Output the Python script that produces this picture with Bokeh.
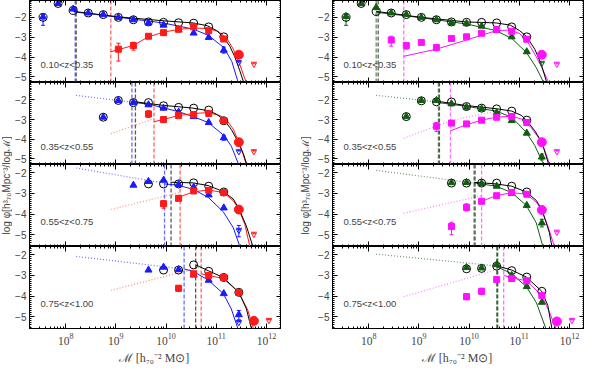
import math
from bokeh.plotting import figure
from bokeh.layouts import row, column
from bokeh.models import (Range1d, LogAxis, LinearAxis, Label, FixedTicker,
                          LogTickFormatter, CustomJSTickFormatter)
from bokeh.embed import file_html
from bokeh.resources import INLINE

# ---------------- axis / tick data ----------------
X_LOG_RANGE = (7.28, 12.30)
Y_RANGES = [(-5.28, -1.15), (-5.28, -1.12), (-5.57, -1.60), (-5.57, -1.60)]
Y_TICKS = [-5, -4, -3, -2]
X_TICKS = [1e8, 1e9, 1e10, 1e11, 1e12]
Z_LABELS = ["0.10<z<0.35", "0.35<z<0.55", "0.55<z<0.75", "0.75<z<1.00"]
Y_LABEL = "log  \u03c6[h\u00b3\u2087\u2080Mpc\u207b\u00b3/log\u2133]"
X_LABEL = "\u2133  [h\u2087\u2080\u207b\u00b2 M\u2299]"

# ---------------- left column: total (black), blue, red ----------------
L1_tot = [(7.55,-2.0),(7.85,-1.3),(8.15,-1.65),(8.45,-1.78),(8.75,-1.86),(9.05,-2.0),(9.35,-2.12),(9.65,-2.23),(9.95,-2.25),(10.25,-2.27),(10.55,-2.29),(10.85,-2.48),(11.15,-2.98)]
L1_a = [(7.55,-1.98),(7.85,-1.3),(8.15,-1.58),(8.45,-1.78),(8.75,-1.86),(9.05,-2.0),(9.35,-2.12),(9.65,-2.28),(9.95,-2.39),(10.25,-2.62),(10.55,-2.79),(10.85,-3.01),(11.15,-3.65)]
L1_b = [(9.05,-3.6),(9.35,-3.42),(9.65,-2.95),(9.95,-2.77),(10.25,-2.6),(10.55,-2.47),(10.85,-2.67),(11.15,-3.09)]
L1_bc = [(11.45,-3.88)]
L1_alim = [(11.45,-4.3)]
L1_blim = [(11.75,-4.38)]
L1_aerr = [(7.55,-2.4,-1.85),(11.15,-3.8,-3.5)]
L1_berr = [(9.05,-4.2,-3.3),(9.35,-3.65,-3.25)]
L1_ctot = [(8.16,-1.7),(9.04,-1.97),(9.94,-2.17),(10.54,-2.28),(10.82,-2.42),(11.01,-2.67),(11.14,-2.98),(11.27,-3.45),(11.37,-3.99),(11.47,-4.69),(11.55,-5.3)]
L1_ca = [(8.16,-1.72),(9.04,-1.99),(9.94,-2.28),(10.54,-2.59),(10.84,-2.9),(11.15,-3.52),(11.31,-4.22),(11.44,-5.3)]
L1_cb = [(8.90,-3.73),(9.34,-3.42),(9.65,-2.98),(9.94,-2.75),(10.25,-2.6),(10.56,-2.54),(10.84,-2.56),(11.05,-2.72),(11.21,-3.06),(11.34,-3.6),(11.47,-4.38),(11.6,-5.3)]
L1_da = []
L1_db = []
L1_v = [8.19, 8.21, 8.90]

L2_tot = [(8.75,-2.88),(9.05,-2.03),(9.35,-2.14),(9.65,-2.14),(9.95,-2.3),(10.25,-2.38),(10.55,-2.42),(10.85,-2.52),(11.15,-3.06)]
L2_a = [(8.75,-2.88),(9.05,-2.03),(9.35,-2.14),(9.65,-2.25),(9.95,-2.42),(10.25,-2.62),(10.55,-2.85),(10.85,-3.15),(11.15,-3.92)]
L2_b = [(9.65,-2.72),(9.95,-3.0),(10.25,-2.8),(10.55,-2.75),(10.85,-2.69),(11.15,-3.06)]
L2_bc = [(11.45,-4.15)]
L2_alim = [(11.45,-4.65)]
L2_blim = [(11.75,-4.65)]
L2_aerr = [(11.15,-4.05,-3.8)]
L2_berr = [(9.65,-2.9,-2.55)]
L2_ctot = [(9.39,-2.1),(9.94,-2.28),(10.54,-2.42),(10.84,-2.55),(11.0,-2.72),(11.15,-3.0),(11.3,-3.5),(11.45,-4.2),(11.55,-4.8),(11.61,-5.3)]
L2_ca = [(9.32,-2.12),(9.65,-2.22),(9.94,-2.4),(10.25,-2.6),(10.54,-2.85),(10.84,-3.15),(11.15,-3.8),(11.3,-4.35),(11.45,-5.3)]
L2_cb = [(9.76,-3.11),(9.94,-3.0),(10.24,-2.8),(10.56,-2.69),(10.84,-2.65),(11.08,-2.8),(11.21,-3.03),(11.34,-3.49),(11.45,-4.15),(11.53,-4.72),(11.6,-5.3)]
L2_da = [(8.21,-1.77),(9.32,-2.12)]
L2_db = [(8.90,-3.72),(9.76,-2.95)]
L2_v = [9.32, 9.39, 9.76]

L3_tot = [(9.65,-2.54),(9.95,-2.54),(10.25,-2.54),(10.55,-2.49),(10.85,-2.65),(11.15,-2.93)]
L3_a = [(9.35,-2.6),(9.65,-2.42),(9.95,-2.36),(10.25,-2.57),(10.55,-2.7),(10.85,-3.07),(11.15,-3.7)]
L3_b = [(9.95,-3.5),(10.25,-3.24),(10.55,-2.88),(10.85,-2.85),(11.15,-2.96)]
L3_bc = [(11.45,-3.78)]
L3_alim = [(11.45,-4.81)]
L3_blim = [(11.75,-5.0)]
L3_aerr = [(11.45,-5.1,-4.55)]
L3_berr = [(9.95,-3.72,-3.35)]
L3_ctot = [(10.09,-2.46),(10.54,-2.49),(10.84,-2.62),(11.14,-2.91),(11.34,-3.27),(11.45,-3.73),(11.6,-4.58),(11.73,-5.57)]
L3_ca = [(9.97,-2.54),(10.23,-2.6),(10.54,-2.8),(10.84,-3.19),(11.14,-3.89),(11.34,-4.66),(11.47,-5.57)]
L3_cb = [(10.28,-3.16),(10.54,-2.93),(10.84,-2.83),(11.14,-2.96),(11.34,-3.35),(11.45,-3.78),(11.57,-4.5),(11.67,-5.57)]
L3_da = [(8.21,-1.77),(9.97,-2.5)]
L3_db = [(8.90,-3.78),(10.28,-2.95)]
L3_v = [9.97, 10.10, 10.28]

L4_tot = [(9.95,-2.74),(10.25,-2.74),(10.55,-2.49),(10.85,-2.8),(11.15,-3.1),(11.45,-3.82)]
L4_a = [(9.65,-2.74),(9.95,-2.6),(10.25,-2.72),(10.55,-2.98),(10.85,-3.23),(11.15,-3.88),(11.45,-4.9)]
L4_b = [(10.25,-3.62),(10.55,-2.92),(10.85,-3.0),(11.15,-3.1),(11.45,-3.82)]
L4_bc = [(11.75,-5.2)]
L4_alim = [(11.45,-5.3)]
L4_blim = [(12.05,-5.2)]
L4_aerr = [(11.45,-5.15,-4.7)]
L4_berr = [(10.25,-3.78,-3.5)]
L4_ctot = [(10.59,-2.49),(10.84,-2.77),(11.14,-3.1),(11.45,-3.82),(11.6,-4.62),(11.7,-5.57)]
L4_ca = [(10.36,-2.69),(10.54,-2.8),(10.84,-3.23),(11.14,-3.88),(11.3,-4.62),(11.43,-5.57)]
L4_cb = [(10.70,-2.92),(10.84,-3.0),(11.14,-3.15),(11.45,-3.82),(11.63,-4.69),(11.74,-5.57)]
L4_da = [(8.21,-2.08),(10.36,-2.69)]
L4_db = [(8.90,-3.72),(10.70,-2.6)]
L4_v = [10.36, 10.59, 10.70]

# ---------------- right column: total (black), green, magenta ----------------
R1_tot = [(7.55,-2.0),(7.85,-1.3),(8.15,-1.7),(8.45,-1.78),(8.75,-1.86),(9.05,-2.0),(9.35,-2.12),(9.65,-2.23),(9.95,-2.25),(10.25,-2.25),(10.55,-2.28),(10.85,-2.48),(11.15,-2.98)]
R1_a = [(7.55,-1.95),(7.85,-1.3),(8.15,-1.5),(8.45,-1.78),(8.75,-1.86),(9.05,-2.0),(9.35,-2.12),(9.65,-2.28),(9.95,-2.31),(10.25,-2.44),(10.55,-2.65),(10.85,-2.98),(11.15,-3.73)]
R1_b = [(8.45,-3.14),(8.75,-3.42),(9.05,-3.26),(9.35,-3.52),(9.65,-3.06),(9.95,-2.98),(10.25,-2.8),(10.55,-2.62),(10.85,-2.7),(11.15,-3.1)]
R1_bc = [(11.45,-3.88)]
R1_alim = [(11.45,-4.33)]
R1_blim = [(11.75,-4.38)]
R1_aerr = [(7.55,-2.4,-1.85)]
R1_berr = [(8.45,-3.45,-2.95),(8.75,-3.6,-3.3),(9.35,-3.68,-3.4)]
R1_ctot = [(8.15,-1.7),(9.05,-2.0),(9.95,-2.23),(10.54,-2.28),(10.82,-2.39),(11.01,-2.67),(11.14,-2.95),(11.31,-3.6),(11.44,-4.38),(11.55,-5.3)]
R1_ca = [(8.15,-1.74),(9.05,-2.02),(9.95,-2.33),(10.54,-2.67),(10.85,-3.06),(11.14,-3.76),(11.34,-4.53),(11.49,-5.3)]
R1_cb = [(8.70,-3.96),(9.35,-3.6),(9.95,-3.14),(10.25,-2.9),(10.54,-2.67),(10.82,-2.64),(11.01,-2.82),(11.18,-3.29),(11.34,-3.99),(11.45,-4.53),(11.59,-5.3)]
R1_da = []
R1_db = []
R1_v = [8.15, 8.19, 8.70]

R2_tot = [(8.75,-2.85),(9.05,-2.05),(9.35,-2.1),(9.65,-2.11),(9.95,-2.34),(10.25,-2.42),(10.55,-2.46),(10.85,-2.57),(11.15,-3.03)]
R2_a = [(8.75,-2.85),(9.05,-2.03),(9.35,-2.03),(9.65,-2.2),(9.95,-2.38),(10.25,-2.46),(10.55,-2.65),(10.85,-3.05),(11.15,-3.69),(11.45,-4.9)]
R2_b = [(9.35,-3.34),(9.65,-3.18),(9.95,-3.22),(10.25,-3.03),(10.55,-2.88),(10.85,-2.85),(11.15,-3.15)]
R2_bc = [(11.45,-4.15)]
R2_alim = []
R2_blim = [(11.75,-4.65)]
R2_aerr = [(11.45,-5.05,-4.75)]
R2_berr = [(9.35,-3.6,-3.15)]
R2_ctot = [(9.39,-2.08),(9.95,-2.29),(10.54,-2.45),(10.85,-2.57),(11.05,-2.8),(11.14,-3.03),(11.31,-3.57),(11.45,-4.15),(11.59,-5.3)]
R2_ca = [(9.39,-2.14),(9.95,-2.33),(10.54,-2.57),(10.85,-2.88),(11.14,-3.65),(11.31,-4.32),(11.49,-5.3)]
R2_cb = [(9.63,-3.57),(9.95,-3.26),(10.25,-3.03),(10.54,-2.88),(10.85,-2.83),(11.08,-3.0),(11.24,-3.42),(11.45,-4.15),(11.61,-5.3)]
R2_da = [(8.15,-1.77),(9.39,-2.11)]
R2_db = [(8.70,-3.95),(9.63,-3.06),(10.49,-2.6)]
R2_v = [9.39, 9.41, 9.63]

R3_tot = [(9.65,-2.5),(9.95,-2.5),(10.25,-2.5),(10.55,-2.5),(10.85,-2.65),(11.15,-2.93)]
R3_a = [(9.65,-2.48),(9.95,-2.47),(10.25,-2.52),(10.55,-2.65),(10.85,-3.0),(11.15,-3.58),(11.45,-4.43)]
R3_b = [(9.65,-4.6),(9.95,-3.68),(10.25,-3.38),(10.55,-3.11),(10.85,-2.96),(11.15,-3.04)]
R3_bc = [(11.45,-3.8)]
R3_alim = []
R3_blim = [(11.75,-4.9)]
R3_aerr = [(11.45,-4.62,-4.25)]
R3_berr = [(9.65,-5.0,-4.4),(9.95,-3.85,-3.5)]
R3_ctot = [(10.10,-2.46),(10.54,-2.54),(10.85,-2.65),(11.14,-2.93),(11.34,-3.34),(11.45,-3.78),(11.6,-4.89),(11.65,-5.57)]
R3_ca = [(10.10,-2.49),(10.54,-2.65),(10.85,-2.96),(11.14,-3.58),(11.34,-4.43),(11.47,-5.57)]
R3_cb = [(10.25,-3.38),(10.54,-3.11),(10.85,-2.96),(11.14,-3.04),(11.34,-3.42),(11.45,-3.81),(11.57,-4.58),(11.7,-5.57)]
R3_da = [(8.15,-1.88),(10.10,-2.5)]
R3_db = [(8.70,-3.96),(10.25,-3.11)]
R3_v = [10.10, 10.12, 10.25]

R4_tot = [(9.95,-2.68),(10.25,-2.66),(10.55,-2.55),(10.85,-2.77),(11.15,-3.08),(11.45,-3.77)]
R4_a = [(9.95,-2.62),(10.25,-2.64),(10.55,-2.48),(10.85,-3.0),(11.15,-3.54),(11.45,-4.3)]
R4_b = [(9.95,-4.03),(10.25,-3.77),(10.55,-3.2),(10.85,-3.15),(11.15,-3.26),(11.45,-3.97)]
R4_bc = [(11.75,-5.23)]
R4_alim = []
R4_blim = [(12.05,-5.2)]
R4_aerr = []
R4_berr = [(9.95,-4.18,-3.88),(10.25,-3.92,-3.62)]
R4_ctot = [(10.56,-2.54),(10.85,-2.74),(11.14,-3.08),(11.45,-3.77),(11.57,-4.46),(11.65,-5.57)]
R4_ca = [(10.56,-2.58),(10.85,-2.92),(11.14,-3.54),(11.34,-4.31),(11.53,-5.57)]
R4_cb = [(10.69,-3.0),(10.85,-3.11),(11.14,-3.26),(11.45,-3.97),(11.6,-4.77),(11.73,-5.57)]
R4_da = [(8.15,-1.97),(10.56,-2.54)]
R4_db = [(8.70,-4.03),(10.69,-2.62)]
R4_v = [10.55, 10.57, 10.69]

LEFT = [
    (L1_tot, L1_a, L1_b, L1_bc, L1_alim, L1_blim, L1_aerr, L1_berr, L1_ctot, L1_ca, L1_cb, L1_da, L1_db, L1_v),
    (L2_tot, L2_a, L2_b, L2_bc, L2_alim, L2_blim, L2_aerr, L2_berr, L2_ctot, L2_ca, L2_cb, L2_da, L2_db, L2_v),
    (L3_tot, L3_a, L3_b, L3_bc, L3_alim, L3_blim, L3_aerr, L3_berr, L3_ctot, L3_ca, L3_cb, L3_da, L3_db, L3_v),
    (L4_tot, L4_a, L4_b, L4_bc, L4_alim, L4_blim, L4_aerr, L4_berr, L4_ctot, L4_ca, L4_cb, L4_da, L4_db, L4_v),
]
RIGHT = [
    (R1_tot, R1_a, R1_b, R1_bc, R1_alim, R1_blim, R1_aerr, R1_berr, R1_ctot, R1_ca, R1_cb, R1_da, R1_db, R1_v),
    (R2_tot, R2_a, R2_b, R2_bc, R2_alim, R2_blim, R2_aerr, R2_berr, R2_ctot, R2_ca, R2_cb, R2_da, R2_db, R2_v),
    (R3_tot, R3_a, R3_b, R3_bc, R3_alim, R3_blim, R3_aerr, R3_berr, R3_ctot, R3_ca, R3_cb, R3_da, R3_db, R3_v),
    (R4_tot, R4_a, R4_b, R4_bc, R4_alim, R4_blim, R4_aerr, R4_berr, R4_ctot, R4_ca, R4_cb, R4_da, R4_db, R4_v),
]

# ---------------- styles ----------------
STY_L = dict(a="#1a1aff", b="#ff1a1a", a_dot="#7070ff", b_dot="#ff9070", a_dash="#3a3aff", b_dash="#ff3030")
STY_R = dict(a="#0e5e0e", b="#ff10ff", a_dot="#6a9a6a", b_dot="#ff80ff", a_dash="#2a6a2a", b_dash="#ff40ff")
FW, FH = 252, 82
BL = 16          # left border of each panel (room for tick labels)
SANS = "Liberation Sans"
SERIF = "Liberation Serif"

X_MINOR = [k * 10.0 ** d for d in range(7, 13) for k in range(2, 10)]
Y_MINOR = [round(-6 + 0.1 * i, 1) for i in range(0, 51)]


def xs(pts):
    return [10 ** p[0] for p in pts]


def ys(pts, j=1):
    return [p[j] for p in pts]


def blank_fmt():
    return CustomJSTickFormatter(code="return ''")


def make_panel(i, data, sty):
    tot, a, b, bc, alim, blim, aerr, berr, ctot, ca, cb, da, db, vl = data
    ylo, yhi = Y_RANGES[i]
    bottom = (i == 3)
    p = figure(x_axis_type="log",
               x_range=Range1d(10 ** X_LOG_RANGE[0], 10 ** X_LOG_RANGE[1]),
               y_range=Range1d(ylo, yhi),
               frame_width=FW, frame_height=FH,
               output_backend="svg", toolbar_location=None,
               min_border_left=BL, min_border_right=0, min_border_top=0,
               min_border_bottom=0)
    p.grid.visible = False
    p.outline_line_color = "black"
    p.outline_line_width = 1

    xt = FixedTicker(ticks=X_TICKS, minor_ticks=X_MINOR)
    yt = FixedTicker(ticks=Y_TICKS, minor_ticks=Y_MINOR)

    xa = p.xaxis[0]
    xa.ticker = xt
    xa.major_tick_in, xa.major_tick_out = 5, 0
    xa.minor_tick_in, xa.minor_tick_out = 2, 0
    xa.axis_line_color = "black"
    if bottom:
        xa.formatter = LogTickFormatter()
        xa.major_label_text_font = SERIF
        xa.major_label_text_font_size = "11.5px"
        xa.major_label_standoff = 4
        xa.axis_label = X_LABEL
        xa.axis_label_text_font = SERIF
        xa.axis_label_text_font_style = "normal"
        xa.axis_label_text_font_size = "12px"
        xa.axis_label_standoff = 3
    else:
        xa.formatter = blank_fmt()
        xa.major_label_text_font_size = "1px"
        xa.major_label_standoff = 0

    ya = p.yaxis[0]
    ya.ticker = yt
    ya.formatter = CustomJSTickFormatter(code="return (tick < 0 ? '\\u2212' : '') + Math.abs(tick).toFixed(0)")
    ya.major_tick_in, ya.major_tick_out = 5, 0
    ya.minor_tick_in, ya.minor_tick_out = 2, 0
    ya.major_label_text_font = SANS
    ya.major_label_text_font_size = "10px"
    ya.major_label_standoff = 3

    top = LogAxis(ticker=xt, formatter=blank_fmt(), major_label_text_font_size="1px",
                  major_label_standoff=0, major_tick_in=5, major_tick_out=0,
                  minor_tick_in=2, minor_tick_out=0)
    p.add_layout(top, "above")
    rgt = LinearAxis(ticker=yt, formatter=blank_fmt(), major_label_text_font_size="1px",
                     major_label_standoff=0, major_tick_in=5, major_tick_out=0,
                     minor_tick_in=2, minor_tick_out=0)
    p.add_layout(rgt, "right")

    # dotted extrapolations
    if da:
        p.line(xs(da), ys(da), line_color=sty["a_dot"], line_width=1.2, line_dash="1 2")
    if db:
        p.line(xs(db), ys(db), line_color=sty["b_dot"], line_width=1.2, line_dash="1 2")
    # completeness limits (vertical dashed)
    vcols = [sty["a_dash"], "#222222", sty["b_dash"]]
    for xv, c in zip(vl, vcols):
        p.segment(x0=[10 ** xv], y0=[ylo], x1=[10 ** xv], y1=[yhi],
                  line_color=c, line_width=1.3, line_dash="4 2", line_alpha=0.75)
    # fitted curves
    p.line(xs(ca), ys(ca), line_color=sty["a"], line_width=1)
    p.line(xs(cb), ys(cb), line_color=sty["b"], line_width=1)
    p.line(xs(ctot), ys(ctot), line_color="black", line_width=1)

    # error bars
    for pts, c in ((aerr, sty["a"]), (berr, sty["b"])):
        if pts:
            p.segment(x0=xs(pts), y0=ys(pts, 1), x1=xs(pts), y1=ys(pts, 2), line_color=c, line_width=1)
            p.scatter(xs(pts) * 2, ys(pts, 1) + ys(pts, 2), marker="dash", size=4, line_color=c, line_width=1)

    # data points
    p.scatter(xs(tot), ys(tot), marker="circle", size=8, fill_color=None, line_color="black", line_width=1)
    p.scatter(xs(a), ys(a), marker="triangle", size=7, fill_color=sty["a"], line_color=sty["a"])
    p.scatter(xs(b), ys(b), marker="square", size=6, fill_color=sty["b"], line_color=sty["b"])
    p.scatter(xs(bc), ys(bc), marker="circle", size=9, fill_color=sty["b"], line_color=sty["b"])

    # upper limits
    for pts, c in ((alim, sty["a"]), (blim, sty["b"])):
        if pts:
            ytop = [y + 0.12 for y in ys(pts)]
            p.segment(x0=xs(pts), y0=ytop, x1=xs(pts), y1=ys(pts), line_color=c, line_width=1)
            p.scatter(xs(pts), ytop, marker="dash", size=6, line_color=c, line_width=1)
            p.scatter(xs(pts), ys(pts), marker="inverted_triangle", size=5, fill_color=None, line_color=c, line_width=1)

    p.add_layout(Label(x=10 ** 7.5, y=-4.37, text=Z_LABELS[i], text_font=SANS,
                       text_font_size="9.5px", text_align="left", text_baseline="middle"))
    return p


def ylabel_fig(w, fx):
    f = figure(width=w, height=4 * FH + 32, x_range=Range1d(0, 1), y_range=Range1d(0, 1),
               toolbar_location=None, output_backend="svg", min_border=0,
               x_axis_location=None, y_axis_location=None)
    f.grid.visible = False
    f.outline_line_color = None
    f.add_layout(Label(x=fx, y=0.49, text=Y_LABEL, angle=math.pi / 2, text_font=SANS,
                       text_font_size="10px", text_align="center", text_baseline="middle"))
    return f


left_col = column([make_panel(i, LEFT[i], STY_L) for i in range(4)], spacing=0)
right_col = column([make_panel(i, RIGHT[i], STY_R) for i in range(4)], spacing=0)
layout = row([ylabel_fig(12, 0.5), left_col, ylabel_fig(34, 0.72), right_col], spacing=0)

open("out.html", "w").write(file_html(layout, INLINE))
